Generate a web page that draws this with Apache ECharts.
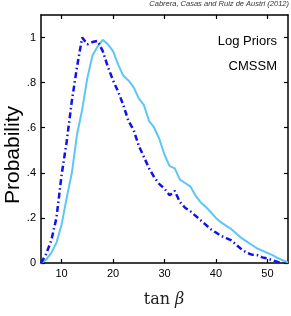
<!DOCTYPE html>
<html><head><meta charset="utf-8">
<script src="https://cdn.jsdelivr.net/npm/echarts@6/dist/echarts.min.js"></script>
<style>html,body{margin:0;padding:0;background:#fff}#c{width:291px;height:316px}</style>
</head><body><div id="c"></div>
<script>
const xs = [6,7,8,9,10,11,12,13,14,15,16,17,18,19,20,21,22,23,24,25,26,27,28,29,30,31,32,33,34,35,36,37,38,39,40,41,42,43,44,45,46,47,48,49,50,51,52,53,54];
const lightY = [0,0.015,0.045,0.09,0.17,0.29,0.40,0.57,0.68,0.82,0.92,0.96,0.99,0.97,0.94,0.88,0.83,0.81,0.78,0.73,0.70,0.63,0.60,0.55,0.48,0.43,0.42,0.37,0.355,0.34,0.30,0.27,0.25,0.225,0.20,0.18,0.165,0.15,0.13,0.11,0.095,0.08,0.065,0.055,0.045,0.035,0.022,0.012,0.003];
const darkY = [0,0.04,0.10,0.20,0.39,0.54,0.72,0.87,1.0,0.97,0.98,0.985,0.94,0.87,0.81,0.76,0.70,0.63,0.59,0.52,0.47,0.42,0.38,0.35,0.33,0.30,0.32,0.27,0.245,0.23,0.21,0.19,0.17,0.15,0.135,0.12,0.11,0.10,0.08,0.06,0.045,0.037,0.035,0.025,0.02,0.012,0.005,0,null];
const xTicks = [10,20,30,40,50];
const yTicks = [0,0.2,0.4,0.6,0.8,1];
const yLabels = {"0":"0","0.2":".2","0.4":".4","0.6":".6","0.8":".8","1":"1"};

const font = 'Liberation Sans, Arial, sans-serif';
const chart = echarts.init(document.getElementById('c'), null, {renderer:'canvas'});
const axisCommon = {
  axisLine:{show:true,onZero:false,lineStyle:{color:'#000',width:1.5}},
  axisTick:{show:true,inside:true,length:4,lineStyle:{color:'#000',width:1.2}},
  splitLine:{show:false}
};
chart.setOption({
  animation:false,
  grid:{left:41,right:3,top:15,bottom:53},
  xAxis:[
    Object.assign({type:'value',min:6,max:54,interval:10,position:'bottom',
      axisLabel:{fontFamily:font,fontSize:11,color:'#000',margin:5,
        customValues:xTicks, formatter:v=>String(v)},
      axisTick:{show:true,inside:true,length:4,customValues:xTicks,lineStyle:{color:'#000',width:1.2}}
    }, {axisLine:axisCommon.axisLine, splitLine:{show:false}}),
    {type:'value',min:6,max:54,position:'top',
      axisLine:axisCommon.axisLine, splitLine:{show:false},
      axisLabel:{show:false,customValues:xTicks},
      axisTick:{show:true,inside:true,length:4,customValues:xTicks,lineStyle:{color:'#000',width:1.2}}}
  ],
  yAxis:[
    {type:'value',min:0,max:1.1,position:'left',
      axisLine:axisCommon.axisLine, splitLine:{show:false},
      axisLabel:{fontFamily:font,fontSize:11,color:'#000',margin:5,customValues:yTicks,
        formatter:v=>yLabels[String(+v.toFixed(1))]},
      axisTick:{show:true,inside:true,length:4,customValues:yTicks,lineStyle:{color:'#000',width:1.2}}},
    {type:'value',min:0,max:1.1,position:'right',
      axisLine:axisCommon.axisLine, splitLine:{show:false},
      axisLabel:{show:false,customValues:yTicks},
      axisTick:{show:true,inside:true,length:4,customValues:yTicks,lineStyle:{color:'#000',width:1.2}}}
  ],
  series:[
    {type:'line',xAxisIndex:0,yAxisIndex:0,showSymbol:false,
      data:xs.map((x,i)=>[x,lightY[i]]),
      lineStyle:{color:'#5CC6F7',width:2}},
    {type:'line',xAxisIndex:0,yAxisIndex:0,showSymbol:false,
      data:xs.map((x,i)=>[x,darkY[i]]).filter(p=>p[1]!==null),
      lineStyle:{color:'#1010F0',width:2.5,type:[6,3,1.5,3]}}
  ],
  graphic:[
    {type:'text',right:2,top:0,style:{text:'Cabrera, Casas and Ruiz de Austri (2012)',fontFamily:font,fontStyle:'italic',fontSize:7.5,fill:'#333'}},
    {type:'text',x:277,y:41,style:{text:'Log Priors',fontFamily:font,fontSize:13,fill:'#000',textAlign:'right',textVerticalAlign:'middle'}},
    {type:'text',x:277,y:66,style:{text:'CMSSM',fontFamily:font,fontSize:13,fill:'#000',textAlign:'right',textVerticalAlign:'middle'}},
    {type:'text',x:13,y:155,rotation:Math.PI/2,style:{text:'Probability',fontFamily:font,fontSize:21,fill:'#000',textAlign:'center',textVerticalAlign:'middle'}},
    {type:'text',x:164,y:300,style:{text:'{r|tan }{i|β}',textAlign:'center',textVerticalAlign:'middle',
      rich:{r:{fontFamily:'DejaVu Serif, Liberation Serif, serif',fontSize:16,fill:'#222'},i:{fontFamily:'DejaVu Serif, Liberation Serif, serif',fontStyle:'italic',fontSize:16,fill:'#222'}}}}
  ]
});
</script></body></html>
